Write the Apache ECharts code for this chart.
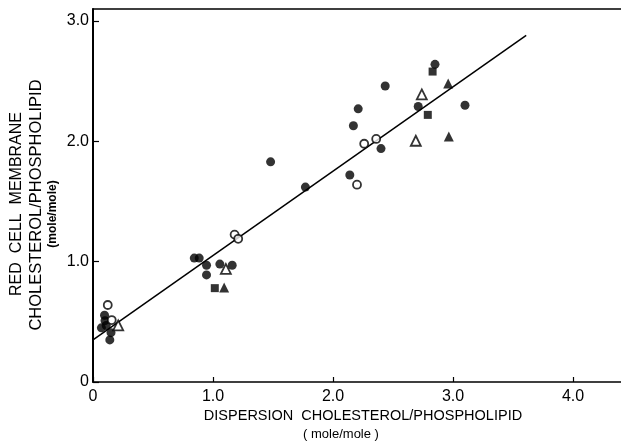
<!DOCTYPE html>
<html>
<head>
<meta charset="utf-8">
<script src="https://cdn.jsdelivr.net/npm/echarts@6/dist/echarts.min.js"></script>
<style>
html,body{margin:0;padding:0;background:#fff;}
#c{width:621px;height:444px;}
</style>
</head>
<body>
<div id="c"></div>
<script>
// Data
var filledCircles = [
  [2.85, 2.64], [2.435, 2.46], [2.21, 2.27], [2.17, 2.13], [2.71, 2.29], [3.10, 2.30],
  [2.40, 1.94], [1.48, 1.83], [1.77, 1.62], [2.14, 1.72],
  [0.844, 1.03], [0.885, 1.03], [0.946, 0.97], [0.946, 0.89], [1.057, 0.98], [1.16, 0.97],
  [0.096, 0.555], [0.11, 0.47], [0.07, 0.45], [0.15, 0.41], [0.14, 0.35], [0.10, 0.51]
];
var openCircles = [
  [0.123, 0.64], [0.156, 0.515], [1.18, 1.225], [1.21, 1.19],
  [2.26, 1.98], [2.36, 2.02], [2.20, 1.64]
];
var filledSquares = [
  [2.83, 2.58], [2.79, 2.22], [1.015, 0.78]
];
var filledTriangles = [
  [2.96, 2.48], [2.965, 2.04], [1.093, 0.785]
];
var openTriangles = [
  [2.74, 2.39], [2.69, 2.005], [0.21, 0.47], [1.107, 0.94]
];
var fitLine = [[0, 0.35], [3.61, 2.88]];
var xTicks = [0, 1, 2, 3, 4];
var yTicks = [0, 1, 2, 3];

var FONT = 'Liberation Sans';
var INK = '#000';
function fmt(v){ return v === 0 ? '0' : v.toFixed(1); }

var chart = echarts.init(document.getElementById('c'), null, {renderer: 'canvas'});
chart.setOption({
  backgroundColor: '#ffffff',
  animation: false,
  grid: {left: 93, top: 9, right: -2, bottom: 62, containLabel: false},
  xAxis: [{
    type: 'value', min: 0, max: 4.4, interval: 1,
    axisLine: {show: true, onZero: false, lineStyle: {color: INK, width: 1.5}},
    axisTick: {show: true, inside: true, length: 5, customValues: xTicks, lineStyle: {color: INK, width: 1.2}},
    axisLabel: {customValues: xTicks, formatter: fmt, color: INK, fontFamily: FONT, fontSize: 16, margin: 7},
    splitLine: {show: false}
  }, {
    type: 'value', position: 'top', min: 0, max: 4.4,
    axisLine: {show: true, onZero: false, lineStyle: {color: INK, width: 1.5}},
    axisTick: {show: false}, axisLabel: {show: false}, splitLine: {show: false}
  }],
  yAxis: {
    type: 'value', min: 0, max: 3.1, interval: 1,
    axisLine: {show: true, onZero: false, lineStyle: {color: INK, width: 2}},
    axisTick: {show: true, inside: true, length: 6, customValues: yTicks, lineStyle: {color: INK, width: 1.2}},
    axisLabel: {customValues: yTicks, formatter: fmt, color: INK, fontFamily: FONT, fontSize: 16, margin: 4},
    splitLine: {show: false}
  },
  graphic: [
    {type: 'text', x: 17, y: 204, rotation: Math.PI / 2,
     style: {text: 'RED  CELL  MEMBRANE', font: '16px "' + FONT + '"', fill: INK, align: 'center', verticalAlign: 'middle'}},
    {type: 'text', x: 36, y: 205, rotation: Math.PI / 2,
     style: {text: 'CHOLESTEROL/PHOSPHOLIPID', font: '16.5px "' + FONT + '"', fill: INK, align: 'center', verticalAlign: 'middle'}},
    {type: 'text', x: 53, y: 214, rotation: Math.PI / 2,
     style: {text: '(mole/mole)', font: 'bold 12px "' + FONT + '"', fill: INK, align: 'center', verticalAlign: 'middle'}},
    {type: 'text', x: 363, y: 416,
     style: {text: 'DISPERSION  CHOLESTEROL/PHOSPHOLIPID', font: '14.5px "' + FONT + '"', fill: INK, align: 'center', verticalAlign: 'middle'}},
    {type: 'text', x: 341, y: 434,
     style: {text: '( mole/mole )', font: '13px "' + FONT + '"', fill: INK, align: 'center', verticalAlign: 'middle'}}
  ],
  series: [
    {type: 'line', data: fitLine, symbol: 'none', lineStyle: {color: INK, width: 1.5}, z: 1},
    {type: 'scatter', data: filledCircles, symbol: 'circle', symbolSize: 9, itemStyle: {color: INK}, z: 3},
    {type: 'scatter', data: openCircles, symbol: 'circle', symbolSize: 8, itemStyle: {color: '#fff', borderColor: INK, borderWidth: 1.8}, z: 3},
    {type: 'scatter', data: filledSquares, symbol: 'rect', symbolSize: 8, itemStyle: {color: INK}, z: 3},
    {type: 'scatter', data: filledTriangles, symbol: 'triangle', symbolSize: 10, itemStyle: {color: INK}, z: 3},
    {type: 'scatter', data: openTriangles, symbol: 'triangle', symbolSize: 10, itemStyle: {color: '#fff', borderColor: INK, borderWidth: 1.8}, z: 3}
  ]
});
</script>
</body>
</html>
